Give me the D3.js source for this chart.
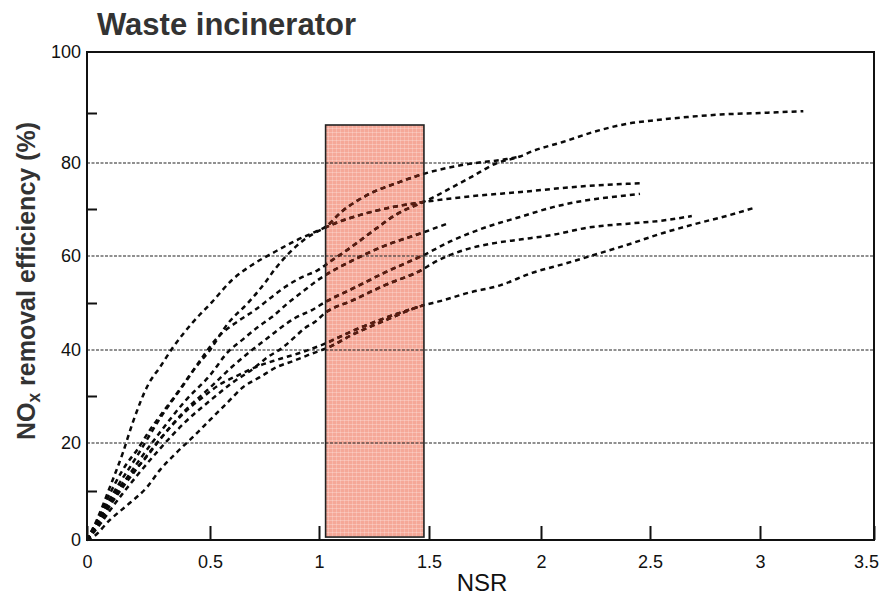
<!DOCTYPE html>
<html><head><meta charset="utf-8">
<script src="https://cdn.jsdelivr.net/npm/d3@7"></script>
<style>
body{margin:0;background:#fff;}
svg{display:block;font-family:"Liberation Sans",Arial,Helvetica,sans-serif;}
</style>
</head><body>
<svg id="chart" width="882" height="597"></svg>
<script>
// ---------------- data ----------------
const chartTitle = "Waste incinerator";
const xAxisLabel = "NSR";
const xTickValues = [0, 0.5, 1, 1.5, 2, 2.5, 3, 3.5];
const xTickLabels = ["0", "0.5", "1", "1.5", "2", "2.5", "3", "3.5"];
const yTickValues = [0, 20, 40, 60, 80, 100];
const yTickLabels = ["0", "20", "40", "60", "80", "100"];
const yMinorTicks = [10, 30, 50, 70, 90];
const yGridValues = [20, 40, 60, 80];
const highlightNSR = [1.03, 1.477];
const highlightEff = [0.6, 87.6];

const series1 = [[0,0],[0.04,4.1],[0.093,10.8],[0.146,18],[0.187,24.5],[0.248,32.4],[0.297,36.3],[0.35,40.6],[0.427,45.7],[0.509,50.2],[0.601,54.9],[0.693,58.1],[0.798,60.9],[0.89,63.2],[0.98,65.1],[1.036,66.4],[1.095,69.1],[1.218,73.0],[1.368,75.9],[1.473,77.6],[1.652,79.6],[1.848,80.8],[1.906,81.3]];
const series2 = [[0,0],[0.04,3.5],[0.081,8.2],[0.122,12.3],[0.163,15.8],[0.203,18.5],[0.256,22.8],[0.309,26.6],[0.37,30.9],[0.431,35.5],[0.5,40],[0.583,45.7],[0.674,50],[0.752,54.3],[0.798,57.2],[0.858,60.4],[0.936,63.6],[1.027,66.0],[1.2,68.9],[1.355,70.6],[1.473,71.5],[1.655,72.6],[1.91,73.7],[2.21,75.0],[2.46,75.6]];
const series3 = [[0,0],[0.05,4.5],[0.1,9],[0.2,17],[0.3,25.5],[0.4,33],[0.47,38.5],[0.537,42.8],[0.615,45.7],[0.706,48.5],[0.784,51.3],[0.844,53.4],[0.922,55.5],[0.995,57.0],[1.05,58.8],[1.15,62],[1.25,65.5],[1.35,68.8],[1.473,71.5],[1.505,72.2],[1.595,74.5],[1.683,76.8],[1.804,80],[1.906,81.3],[1.964,82.4],[2.1,84.2],[2.24,86.2],[2.39,87.8],[2.53,88.6],[2.67,89.2],[2.82,89.7],[3.0,90],[3.19,90.3]];
const series4 = [[0,0],[0.05,4],[0.1,8],[0.2,15.5],[0.3,22.5],[0.4,29],[0.5,34.5],[0.583,39.6],[0.647,42.1],[0.72,44.9],[0.784,47],[0.858,50],[0.936,52.8],[0.995,54.9],[1.028,55.9],[1.15,59],[1.3,62.2],[1.473,65],[1.576,66.8]];
const series5 = [[0,0],[0.05,3.5],[0.1,7.5],[0.2,14.5],[0.3,21],[0.4,27],[0.5,31.8],[0.6,36.3],[0.693,40],[0.752,42.1],[0.812,44.3],[0.89,46.8],[0.968,48.5],[1.028,50.2],[1.15,53],[1.3,56.5],[1.48,60.3],[1.6,63.2],[1.759,66.2],[1.906,68.3],[2.055,70.4],[2.21,71.9],[2.36,72.8],[2.454,73.3]];
const series6 = [[0,0],[0.05,3],[0.1,6.5],[0.2,13],[0.3,19],[0.4,24.5],[0.5,29],[0.6,32.8],[0.7,36],[0.766,38.5],[0.83,40.4],[0.89,42.8],[0.936,44.7],[0.982,46],[1.028,47.9],[1.15,50.5],[1.3,53.8],[1.473,57.2],[1.518,58.5],[1.652,61.2],[1.8,62.8],[1.906,63.5],[2.055,64.5],[2.21,66],[2.43,67],[2.55,67.5],[2.69,68.5]];
const series7 = [[0,0],[0.05,4.5],[0.134,11],[0.203,14.8],[0.256,18],[0.297,20.8],[0.35,24],[0.407,27],[0.472,29.8],[0.541,32.4],[0.633,34.6],[0.711,36.3],[0.802,37.8],[0.908,39.3],[1.014,41.1],[1.15,44],[1.3,46.8],[1.473,49.5]];
const series8 = [[0,0],[0.024,0.6],[0.093,4.1],[0.175,7.6],[0.244,10.8],[0.297,14.4],[0.366,18.1],[0.431,21.3],[0.5,24.9],[0.578,28.5],[0.651,31.9],[0.729,34.1],[0.807,36.3],[0.881,37.6],[0.972,39.3],[1.036,40.4],[1.15,43.2],[1.3,46.3],[1.473,49.5],[1.55,50.4],[1.67,52.1],[1.82,53.8],[1.96,56.4],[2.12,58.5],[2.27,60.6],[2.39,62.3],[2.56,64.9],[2.72,67.0],[2.83,68.3],[2.97,70.2]];
const allSeries = [series1, series2, series3, series4, series5, series6, series7, series8];

// ---------------- layout ----------------
const svg = d3.select("#chart");
const x = d3.scaleLinear()
  .domain(xTickValues)
  .range([87, 210, 319, 429, 541, 650, 760, 874]);
const y = d3.scaleLinear()
  .domain([0, 10, 20, 30, 40, 50, 60, 70, 80, 90, 100])
  .range([540, 491, 443, 396, 350, 303, 256, 209, 163, 113, 52]);

const x0 = x(0), x1 = x(3.5), yb = y(0), yt = y(100);

// pattern for the highlighted band
const defs = svg.append("defs");
const pat = defs.append("pattern").attr("id", "band").attr("patternUnits", "userSpaceOnUse")
  .attr("width", 4).attr("height", 4);
pat.append("rect").attr("width", 4).attr("height", 4).attr("fill", "#f5a898");
pat.append("rect").attr("x", 0).attr("y", 0).attr("width", 4).attr("height", 1).attr("fill", "#fff").attr("opacity", 0.25);
pat.append("rect").attr("x", 0).attr("y", 0).attr("width", 1).attr("height", 4).attr("fill", "#fff").attr("opacity", 0.2);

// title
svg.append("text").attr("x", 97).attr("y", 35)
  .attr("font-size", 31).attr("font-weight", "bold").attr("fill", "#333")
  .text(chartTitle);

// highlight rectangle
const bandX = x(highlightNSR[0]), bandW = x(highlightNSR[1]) - x(highlightNSR[0]);
const bandY = y(highlightEff[1]), bandH = y(highlightEff[0]) - y(highlightEff[1]);
svg.append("rect")
  .attr("x", bandX).attr("y", bandY).attr("width", bandW).attr("height", bandH)
  .attr("fill", "url(#band)");

// gridlines
svg.append("g").selectAll("line").data(yGridValues).join("line")
  .attr("x1", x0).attr("x2", x1)
  .attr("y1", d => y(d)).attr("y2", d => y(d))
  .attr("stroke", "#222").attr("stroke-width", 1.1)
  .attr("stroke-dasharray", "3,1.5");

// curves
const line = d3.line().x(d => x(d[0])).y(d => y(d[1])).curve(d3.curveMonotoneX);
svg.append("g").selectAll("path").data(allSeries).join("path")
  .attr("d", line).attr("fill", "none")
  .attr("stroke", "#0a0a0a").attr("stroke-width", 2.5)
  .attr("stroke-dasharray", "5,4");

// tinted curve segments inside the rectangle
defs.append("clipPath").attr("id", "hl").append("rect")
  .attr("x", bandX).attr("y", bandY).attr("width", bandW).attr("height", bandH);
svg.append("g").attr("clip-path", "url(#hl)").selectAll("path").data(allSeries).join("path")
  .attr("d", line).attr("fill", "none")
  .attr("stroke", "#5a1c10").attr("stroke-width", 2.5)
  .attr("stroke-dasharray", "5,4");

// rectangle border
svg.append("rect")
  .attr("x", bandX).attr("y", bandY).attr("width", bandW).attr("height", bandH)
  .attr("fill", "none").attr("stroke", "#222").attr("stroke-width", 1.6);

// x axis
const xAxis = svg.append("g").attr("transform", `translate(0,${yb})`)
  .call(d3.axisBottom(x).tickValues(xTickValues)
    .tickFormat((d, i) => xTickLabels[i]).tickSizeInner(-14).tickSizeOuter(0).tickPadding(15));
xAxis.select(".domain").remove();
xAxis.selectAll(".tick line").attr("stroke", "#111").attr("stroke-width", 2);
xAxis.selectAll(".tick text").attr("font-size", 18).attr("fill", "#111")
  .attr("font-family", "Liberation Sans, Arial, sans-serif")
  .attr("dx", (d, i) => i === xTickValues.length - 1 ? -8 : 0);

// y axis labels
const yAxis = svg.append("g").attr("transform", `translate(${x0},0)`)
  .call(d3.axisLeft(y).tickValues(yTickValues)
    .tickFormat((d, i) => yTickLabels[i]).tickSizeInner(0).tickSizeOuter(0).tickPadding(6));
yAxis.select(".domain").remove();
yAxis.selectAll(".tick text").attr("font-size", 18).attr("fill", "#111")
  .attr("font-family", "Liberation Sans, Arial, sans-serif");

// y minor ticks
const yMinor = svg.append("g").attr("transform", `translate(${x0},0)`)
  .call(d3.axisLeft(y).tickValues(yMinorTicks).tickFormat("").tickSizeInner(-10).tickSizeOuter(0));
yMinor.select(".domain").remove();
yMinor.selectAll(".tick line").attr("stroke", "#111").attr("stroke-width", 2);

// frame
svg.append("path")
  .attr("d", `M${x0},${yt}H${x1}V${yb}H${x0}Z`)
  .attr("fill", "none").attr("stroke", "#111").attr("stroke-width", 2);

// axis titles
svg.append("text").attr("x", 482).attr("y", 591)
  .attr("text-anchor", "middle").attr("font-size", 24).attr("fill", "#111")
  .text(xAxisLabel);

const yl = svg.append("text")
  .attr("transform", "translate(35,281) rotate(-90)")
  .attr("text-anchor", "middle").attr("font-size", 26).attr("font-weight", "bold")
  .attr("fill", "#333").attr("textLength", 318).attr("lengthAdjust", "spacingAndGlyphs");
yl.append("tspan").text("NO");
yl.append("tspan").attr("font-size", 18).attr("dy", 5).text("x");
yl.append("tspan").attr("dy", -5).text(" removal efficiency (%)");
</script>
</body></html>
